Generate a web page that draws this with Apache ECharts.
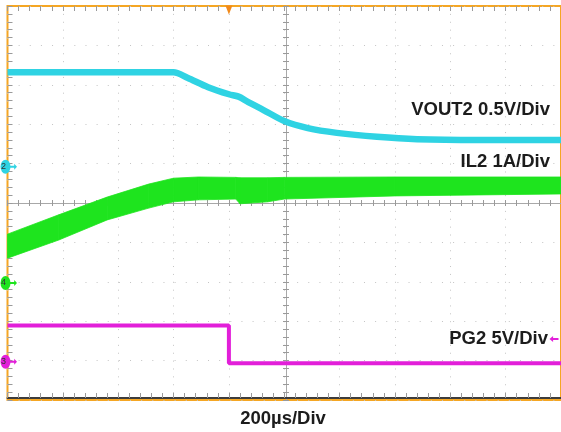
<!DOCTYPE html>
<html>
<head>
<meta charset="utf-8">
<script src="https://cdn.jsdelivr.net/npm/echarts@6/dist/echarts.min.js"></script>
<style>
  html, body { margin: 0; padding: 0; background: #ffffff; }
  #chart { width: 561px; height: 432px; }
</style>
</head>
<body>
<div id="chart"></div>
<script>
// Horizontal: 200 µs per division, 10 divisions
const timeSpanUs = [0, 2000];
const timePerDivUs = 200;

// VOUT2 (V)
const vout2TimeUs = [0, 600, 650, 725, 800, 835, 870, 925, 1000, 1085, 1190, 1335, 1480, 1700, 2000];
const vout2Volts  = [1.20, 1.20, 1.13, 1.01, 0.92, 0.89, 0.82, 0.72, 0.58, 0.49, 0.43, 0.38, 0.35, 0.34, 0.34];

// IL2 (A): ripple envelope, peaks and valleys
const il2TimeUs  = [0, 185, 360, 510, 600, 690, 825, 840, 940, 1000, 1400, 2000];
const il2PeakA   = [1.24, 1.73, 2.18, 2.51, 2.66, 2.69, 2.68, 2.67, 2.67, 2.68, 2.69, 2.69];
const il2ValleyA = [0.63, 1.09, 1.60, 1.90, 2.06, 2.11, 2.13, 2.01, 2.06, 2.13, 2.21, 2.26];

// PG2 (V)
const pg2TimeUs = [0, 800, 2000];
const pg2Volts  = [4.6, -0.2, -0.2];
const pg2LevelV = 2.9;

const triggerUs = 800;

// Channel scale (units per division) and ground position (divisions from screen centre)
const ch = {
  vout2: { perDiv: 0.5, zeroDiv: 0.92, tag: '2' },
  il2:   { perDiv: 1,   zeroDiv: -2.03, tag: '4' },
  pg2:   { perDiv: 5,   zeroDiv: -4.03, tag: '3' }
};

const COL_CYAN = '#2fd3e3';
const COL_GREEN = '#1ee41e';
const COL_MAG = '#e21fd9';
const COL_ORANGE = '#f5a623';
const FONT = '"Liberation Sans", Arial, sans-serif';

const toDiv = (c, v) => c.zeroDiv + v / c.perDiv;

const vout2Data = vout2TimeUs.map((t, i) => [t, toDiv(ch.vout2, vout2Volts[i])]);
const il2Data = il2TimeUs.map((t, i) => [t, toDiv(ch.il2, il2ValleyA[i]), toDiv(ch.il2, il2PeakA[i])]);
const pg2Data = pg2TimeUs.map((t, i) => [t, toDiv(ch.pg2, pg2Volts[i])]);

const ARROW_R = 'path://M0,3 L6,3 L6,0 L10,4.5 L6,9 L6,6 L0,6 Z';
const ARROW_L = 'path://M10,3 L4,3 L4,0 L0,4.5 L4,9 L4,6 L10,6 Z';

function groundMarks(c, color) {
  return [
    {
      coord: [timeSpanUs[0], c.zeroDiv], symbol: 'circle', symbolSize: [10, 14],
      symbolOffset: [-2, 0], itemStyle: { color: color },
      label: { show: true, formatter: c.tag, color: '#333', fontSize: 9, fontFamily: FONT, position: 'inside', offset: [-2, 0] }
    },
    {
      coord: [timeSpanUs[0], c.zeroDiv], symbol: ARROW_R, symbolSize: [7, 6],
      symbolOffset: [6, 0], itemStyle: { color: color }, label: { show: false }
    }
  ];
}

const gridTick = '#9a9a9a';
const dotColor = '#c4c4c4';

function xAxisBase(extra) {
  return Object.assign({
    type: 'value', min: timeSpanUs[0], max: timeSpanUs[1], interval: timePerDivUs,
    axisLabel: { show: false }, splitLine: { show: false }
  }, extra);
}
function yAxisBase(extra) {
  return Object.assign({
    type: 'value', min: -5, max: 5, interval: 1,
    axisLabel: { show: false }, splitLine: { show: false }
  }, extra);
}

// Ripple band of the inductor current: polygon between valley and peak envelopes
function renderBand(params, api) {
  const i = params.dataIndex;
  if (i >= il2Data.length - 1) return null;
  const a = il2Data[i], b = il2Data[i + 1];
  const pts = [
    api.coord([a[0], a[2]]), api.coord([b[0], b[2]]),
    api.coord([b[0], b[1]]), api.coord([a[0], a[1]])
  ];
  return {
    type: 'polygon',
    shape: { points: pts },
    style: { fill: COL_GREEN, stroke: COL_GREEN, lineWidth: 0.8 }
  };
}

const chart = echarts.init(document.getElementById('chart'), null, { renderer: 'canvas' });

chart.setOption({
  animation: false,
  backgroundColor: '#ffffff',
  grid: {
    left: 7.5, top: 6, width: 557, height: 394,
    show: true, borderColor: COL_ORANGE, borderWidth: 2, backgroundColor: '#ffffff'
  },
  xAxis: [
    // bottom edge
    xAxisBase({
      position: 'bottom', offset: -2,
      axisLine: { show: true, onZero: false, lineStyle: { color: '#3c3c3c', width: 2 } },
      axisTick: { show: true, inside: true, length: 5, lineStyle: { color: gridTick } },
      minorTick: { show: true, splitNumber: 5, length: 5, lineStyle: { color: gridTick } },
      splitLine: { show: true, lineStyle: { color: dotColor, width: 1, type: [1, 6.88] } }
    }),
    // top edge
    xAxisBase({
      position: 'top',
      axisLine: { show: false, onZero: false },
      axisTick: { show: true, inside: true, length: 5, lineStyle: { color: gridTick } },
      minorTick: { show: true, splitNumber: 5, length: 5, lineStyle: { color: gridTick } }
    }),
    // horizontal centre line, ticks above
    xAxisBase({
      position: 'bottom', offset: -197,
      axisLine: { show: true, onZero: false, lineStyle: { color: '#a8a8a8', width: 1 } },
      axisTick: { show: true, inside: true, length: 3, lineStyle: { color: gridTick } },
      minorTick: { show: true, splitNumber: 5, length: 3, lineStyle: { color: gridTick } }
    }),
    // horizontal centre line, ticks below
    xAxisBase({
      position: 'bottom', offset: -197,
      axisLine: { show: false, onZero: false },
      axisTick: { show: true, inside: false, length: 3, lineStyle: { color: gridTick } },
      minorTick: { show: true, splitNumber: 5, length: 3, lineStyle: { color: gridTick } }
    })
  ],
  yAxis: [
    // left edge
    yAxisBase({
      position: 'left',
      axisLine: { show: false, onZero: false },
      axisTick: { show: true, inside: true, length: 5, lineStyle: { color: gridTick } },
      minorTick: { show: true, splitNumber: 5, length: 5, lineStyle: { color: gridTick } },
      splitLine: { show: true, lineStyle: { color: dotColor, width: 1, type: [1, 10.14] } }
    }),
    // vertical centre line, ticks to the right
    yAxisBase({
      position: 'left', offset: -278.5,
      axisLine: { show: true, onZero: false, lineStyle: { color: '#a8a8a8', width: 1 } },
      axisTick: { show: true, inside: true, length: 3, lineStyle: { color: gridTick } },
      minorTick: { show: true, splitNumber: 5, length: 3, lineStyle: { color: gridTick } }
    }),
    // vertical centre line, ticks to the left
    yAxisBase({
      position: 'left', offset: -278.5,
      axisLine: { show: false, onZero: false },
      axisTick: { show: true, inside: false, length: 3, lineStyle: { color: gridTick } },
      minorTick: { show: true, splitNumber: 5, length: 3, lineStyle: { color: gridTick } }
    })
  ],
  series: [
    {
      name: 'IL2 1A/Div', type: 'custom', xAxisIndex: 0, yAxisIndex: 0,
      data: il2Data, encode: { x: 0, y: [1, 2] },
      renderItem: renderBand, clip: true, silent: true, z: 3
    },
    {
      name: 'VOUT2 0.5V/Div', type: 'line', xAxisIndex: 0, yAxisIndex: 0,
      data: vout2Data, symbol: 'none', smooth: 0.3, z: 4,
      lineStyle: { width: 6.5, color: COL_CYAN }, silent: true,
      markPoint: {
        silent: true,
        data: groundMarks(ch.vout2, COL_CYAN)
          .concat(groundMarks(ch.il2, COL_GREEN))
          .concat([
            {
              coord: [triggerUs, 5], symbol: 'triangle', symbolRotate: 180, symbolSize: [7, 9],
              symbolOffset: [0, 4], itemStyle: { color: '#f28a1a' }, label: { show: false }
            }
          ])
      }
    },
    {
      name: 'PG2 5V/Div', type: 'line', xAxisIndex: 0, yAxisIndex: 0,
      data: pg2Data, step: 'end', symbol: 'none', z: 4,
      lineStyle: { width: 4, color: COL_MAG }, silent: true,
      markPoint: {
        silent: true,
        data: groundMarks(ch.pg2, COL_MAG).concat([
          {
            coord: [timeSpanUs[1], toDiv(ch.pg2, pg2LevelV)], symbol: ARROW_L, symbolSize: [9, 6],
            symbolOffset: [-7, 0], itemStyle: { color: COL_MAG }, label: { show: false }
          }
        ])
      }
    }
  ],
  graphic: [
    { type: 'text', z: 100, style: { text: 'VOUT2 0.5V/Div', x: 550, y: 110, align: 'right', verticalAlign: 'middle', font: 'bold 18.5px ' + FONT, fill: '#1c1c1c' } },
    { type: 'text', z: 100, style: { text: 'IL2 1A/Div', x: 550, y: 162, align: 'right', verticalAlign: 'middle', font: 'bold 18.5px ' + FONT, fill: '#1c1c1c' } },
    { type: 'text', z: 100, style: { text: 'PG2 5V/Div', x: 548, y: 339, align: 'right', verticalAlign: 'middle', font: 'bold 18.5px ' + FONT, fill: '#1c1c1c' } },
    { type: 'text', z: 100, style: { text: '200\u00b5s/Div', x: 283, y: 419, align: 'center', verticalAlign: 'middle', font: 'bold 18.5px ' + FONT, fill: '#1c1c1c' } }
  ]
});
</script>
</body>
</html>
